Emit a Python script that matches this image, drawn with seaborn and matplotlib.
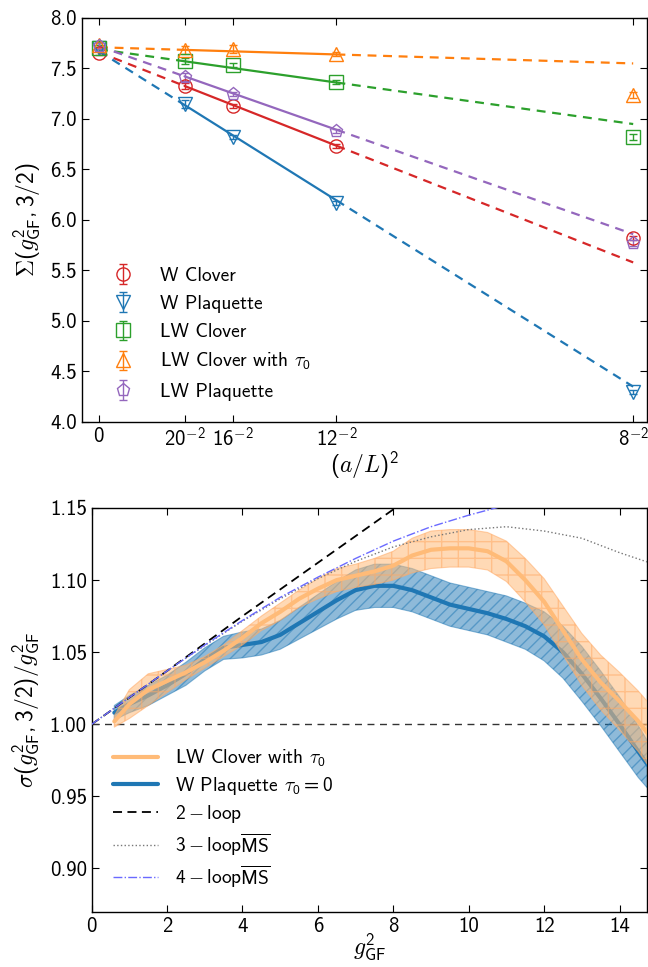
import numpy as np
import pandas as pd
import seaborn as sns
import matplotlib.pyplot as plt

# ---- top panel data: Sigma(g^2, 3/2) vs (a/L)^2 ----
x_top = [0.0, 20.0**-2, 16.0**-2, 12.0**-2, 8.0**-2]
xtick_labels = ["$0$", "$20^{-2}$", "$16^{-2}$", "$12^{-2}$", "$8^{-2}$"]

series_names = ["W Clover", "W Plaquette", "LW Clover", r"LW Clover with $\tau_0$", "LW Plaquette"]
series_colors = ["#d62728", "#1f77b4", "#2ca02c", "#ff7f0e", "#9467bd"]
series_markers = ["o", "v", "s", "^", "p"]

w_clover = [7.65, 7.33, 7.13, 6.73, 5.82]
w_plaq = [7.70, 7.15, 6.82, 6.17, 4.30]
lw_clover = [7.70, 7.57, 7.53, 7.37, 6.82]
lw_clover_tau = [7.73, 7.68, 7.69, 7.64, 7.24]
lw_plaq = [7.72, 7.42, 7.25, 6.88, 5.77]
top_values = [w_clover, w_plaq, lw_clover, lw_clover_tau, lw_plaq]

w_clover_err = [0.02, 0.03, 0.02, 0.02, 0.02]
w_plaq_err = [0.03, 0.04, 0.02, 0.02, 0.02]
lw_clover_err = [0.03, 0.03, 0.02, 0.02, 0.03]
lw_clover_tau_err = [0.03, 0.04, 0.04, 0.02, 0.03]
lw_plaq_err = [0.03, 0.04, 0.02, 0.02, 0.03]
top_errors = [w_clover_err, w_plaq_err, lw_clover_err, lw_clover_tau_err, lw_plaq_err]

# continuum fit lines: value at (a/L)^2 = 0 and at 8^-2
fit_at_zero = [7.66, 7.67, 7.69, 7.71, 7.72]
fit_at_8 = [5.58, 4.35, 6.95, 7.55, 5.86]

# ---- bottom panel data: sigma/g^2 vs g^2 ----
g2 = [0.6, 1.0, 1.5, 2.0, 2.5, 3.0, 3.5, 4.0, 4.5, 5.0, 5.5, 6.0, 6.5, 7.0, 7.5,
      8.0, 8.5, 9.0, 9.5, 10.0, 10.5, 11.0, 11.5, 12.0, 12.5, 13.0, 13.5, 14.0, 14.5, 14.8]
lw_tau_center = [1.002, 1.014, 1.024, 1.030, 1.036, 1.043, 1.051, 1.060, 1.070, 1.078,
                 1.087, 1.094, 1.100, 1.103, 1.106, 1.110, 1.117, 1.121, 1.122, 1.122,
                 1.120, 1.113, 1.100, 1.085, 1.065, 1.045, 1.029, 1.016, 1.002, 0.992]
lw_tau_halfwidth = [0.004, 0.010, 0.011, 0.008, 0.005, 0.004, 0.004, 0.005, 0.005, 0.006,
                    0.006, 0.007, 0.008, 0.008, 0.009, 0.010, 0.012, 0.013, 0.013, 0.013,
                    0.013, 0.014, 0.015, 0.016, 0.017, 0.018, 0.019, 0.020, 0.021, 0.022]
wplaq_center = [1.008, 1.014, 1.020, 1.027, 1.035, 1.045, 1.053, 1.055, 1.057, 1.062,
                1.070, 1.078, 1.086, 1.093, 1.096, 1.096, 1.093, 1.088, 1.083, 1.080,
                1.077, 1.073, 1.068, 1.061, 1.050, 1.035, 1.018, 1.000, 0.981, 0.970]
wplaq_halfwidth = [0.005, 0.006, 0.007, 0.007, 0.008, 0.008, 0.008, 0.009, 0.009, 0.010,
                   0.011, 0.012, 0.013, 0.014, 0.015, 0.015, 0.015, 0.015, 0.015, 0.015,
                   0.015, 0.016, 0.016, 0.017, 0.018, 0.019, 0.019, 0.019, 0.018, 0.016]

loop2_g2 = [0.0, 2.0, 4.0, 6.0, 8.0, 8.3]
loop2_val = [1.0, 1.037, 1.075, 1.112, 1.149, 1.155]
loop3_g2 = [0, 1, 2, 3, 4, 5, 6, 7, 8, 9, 10, 11, 12, 13, 14, 14.8]
loop3_val = [1.0, 1.0186, 1.037, 1.0547, 1.0715, 1.087, 1.101, 1.113, 1.123, 1.130,
             1.135, 1.137, 1.134, 1.129, 1.119, 1.112]
loop4_g2 = [0, 1, 2, 3, 4, 5, 6, 7, 8, 9, 10, 11]
loop4_val = [1.0, 1.0186, 1.037, 1.055, 1.072, 1.088, 1.102, 1.115, 1.127, 1.137, 1.145, 1.152]

# ---- style ----
sns.set_style("ticks")
plt.rcParams["font.family"] = ["cmss10", "DejaVu Sans"]
plt.rcParams.update({
    "mathtext.fontset": "custom",
    "mathtext.rm": "cmss10",
    "mathtext.sf": "cmss10",
    "mathtext.it": "cmmi10",
    "mathtext.bf": "cmss10",
    "axes.unicode_minus": False,
    "xtick.direction": "in",
    "ytick.direction": "in",
    "xtick.top": True,
    "ytick.right": True,
    "xtick.major.size": 5,
    "ytick.major.size": 5,
    "axes.edgecolor": "black",
    "axes.linewidth": 1.0,
    "xtick.color": "black",
    "ytick.color": "black",
    "axes.labelcolor": "black",
    "text.color": "black",
})

fig = plt.figure(figsize=(6.48, 9.67), dpi=100)
ax1 = fig.add_axes([0.1265, 0.5636, 0.872, 0.4178])
ax2 = fig.add_axes([0.1415, 0.0572, 0.857, 0.4175])

# ---- top panel ----
x_end = x_top[-1]
for name, col, mk, vals, errs, f0, f8 in zip(series_names, series_colors, series_markers,
                                               top_values, top_errors, fit_at_zero, fit_at_8):
    slope = (f8 - f0) / x_end
    fit_df = pd.DataFrame({"x": [0.0, x_top[1], x_top[3], x_end]})
    fit_df["y"] = f0 + slope * fit_df["x"]
    # dashed extrapolation, solid over fitted range
    ax1.plot(fit_df["x"][:2], fit_df["y"][:2], ls="--", color=col, lw=1.6, dashes=(4, 3))
    ax1.plot(fit_df["x"][2:], fit_df["y"][2:], ls="--", color=col, lw=1.6, dashes=(4, 3))
    sns.lineplot(data=fit_df.iloc[1:3], x="x", y="y", color=col, lw=1.6, ax=ax1)
    ax1.errorbar(x_top, vals, yerr=errs, fmt=mk, color=col, mfc="none", mec=col,
                 ms=9.5, mew=1.0, capsize=3, elinewidth=1.0, label=name)

ax1.set_xlim(-0.0005, 0.01603)
ax1.set_ylim(4.0, 8.0)
ax1.set_xticks(x_top)
ax1.set_xticklabels(xtick_labels, fontsize=15)
ax1.set_yticks(np.arange(4.0, 8.01, 0.5))
ax1.set_yticklabels([f"{v:.1f}" for v in np.arange(4.0, 8.01, 0.5)], fontsize=15)
ax1.set_xlabel(r"$(a/L)^2$", fontsize=17, labelpad=0)
ax1.set_ylabel(r"$\Sigma(g^2_{\rm GF},3/2)$", fontsize=17, labelpad=6)
ax1.legend(loc="lower left", bbox_to_anchor=(0.0, 0.0), frameon=False, fontsize=14,
           handletextpad=0.9, labelspacing=0.52, borderpad=0.6)

# ---- bottom panel ----
g2a = np.array(g2)
lwc = np.array(lw_tau_center)
lwh = np.array(lw_tau_halfwidth)
wpc = np.array(wplaq_center)
wph = np.array(wplaq_halfwidth)

ax2.axhline(1.0, color="#333333", ls="--", lw=1.0, dashes=(5, 4))

ax2.fill_between(g2a, wpc - wph, wpc + wph, facecolor="#1f77b4", alpha=0.5,
                 edgecolor="#1f77b4", hatch="///", lw=0.8, zorder=2)
sns.lineplot(x=g2a, y=wpc, color="#1f77b4", lw=3, ax=ax2, zorder=3,
             label=r"W Plaquette $\tau_0=0$")
ax2.fill_between(g2a, lwc - lwh, lwc + lwh, facecolor="#ffbb78", alpha=0.55,
                 edgecolor="#ffaa66", hatch="+", lw=0.8, zorder=4)
sns.lineplot(x=g2a, y=lwc, color="#ffbb78", lw=3, ax=ax2, zorder=5,
             label=r"LW Clover with $\tau_0$")

sns.lineplot(x=loop2_g2, y=loop2_val, color="black", lw=1.3, ax=ax2, zorder=6,
             label=r"$2-{\rm loop}$")
ax2.lines[-1].set_dashes((5, 3))
sns.lineplot(x=loop3_g2, y=loop3_val, color="#777777", lw=1.0, ax=ax2, zorder=6,
             label=r"$3-{\rm loop}\overline{\rm MS}$")
ax2.lines[-1].set_linestyle(":")
sns.lineplot(x=loop4_g2, y=loop4_val, color="#6a6aff", lw=1.0, ax=ax2, zorder=6,
             label=r"$4-{\rm loop}\overline{\rm MS}$")
ax2.lines[-1].set_linestyle("-.")

ax2.set_xlim(0, 14.73)
ax2.set_ylim(0.87, 1.15)
ax2.set_xticks(np.arange(0, 15, 2))
ax2.set_xticklabels([str(v) for v in range(0, 15, 2)], fontsize=15)
ax2.set_yticks(np.arange(0.90, 1.151, 0.05))
ax2.set_yticklabels([f"{v:.2f}" for v in np.arange(0.90, 1.151, 0.05)], fontsize=15)
ax2.set_xlabel(r"$g^2_{\rm GF}$", fontsize=17, labelpad=-3)
ax2.set_ylabel(r"$\sigma(g^2_{\rm GF},3/2)/g^2_{\rm GF}$", fontsize=17, labelpad=6)

h, l = ax2.get_legend_handles_labels()
order = [l.index(r"LW Clover with $\tau_0$"), l.index(r"W Plaquette $\tau_0=0$"),
         l.index(r"$2-{\rm loop}$"), l.index(r"$3-{\rm loop}\overline{\rm MS}$"),
         l.index(r"$4-{\rm loop}\overline{\rm MS}$")]
ax2.legend([h[i] for i in order], [l[i] for i in order], loc="lower left",
           frameon=False, fontsize=14, handlelength=2.3, handletextpad=0.9,
           labelspacing=0.3, borderpad=0.6)

fig.savefig("out.png", dpi=100)
